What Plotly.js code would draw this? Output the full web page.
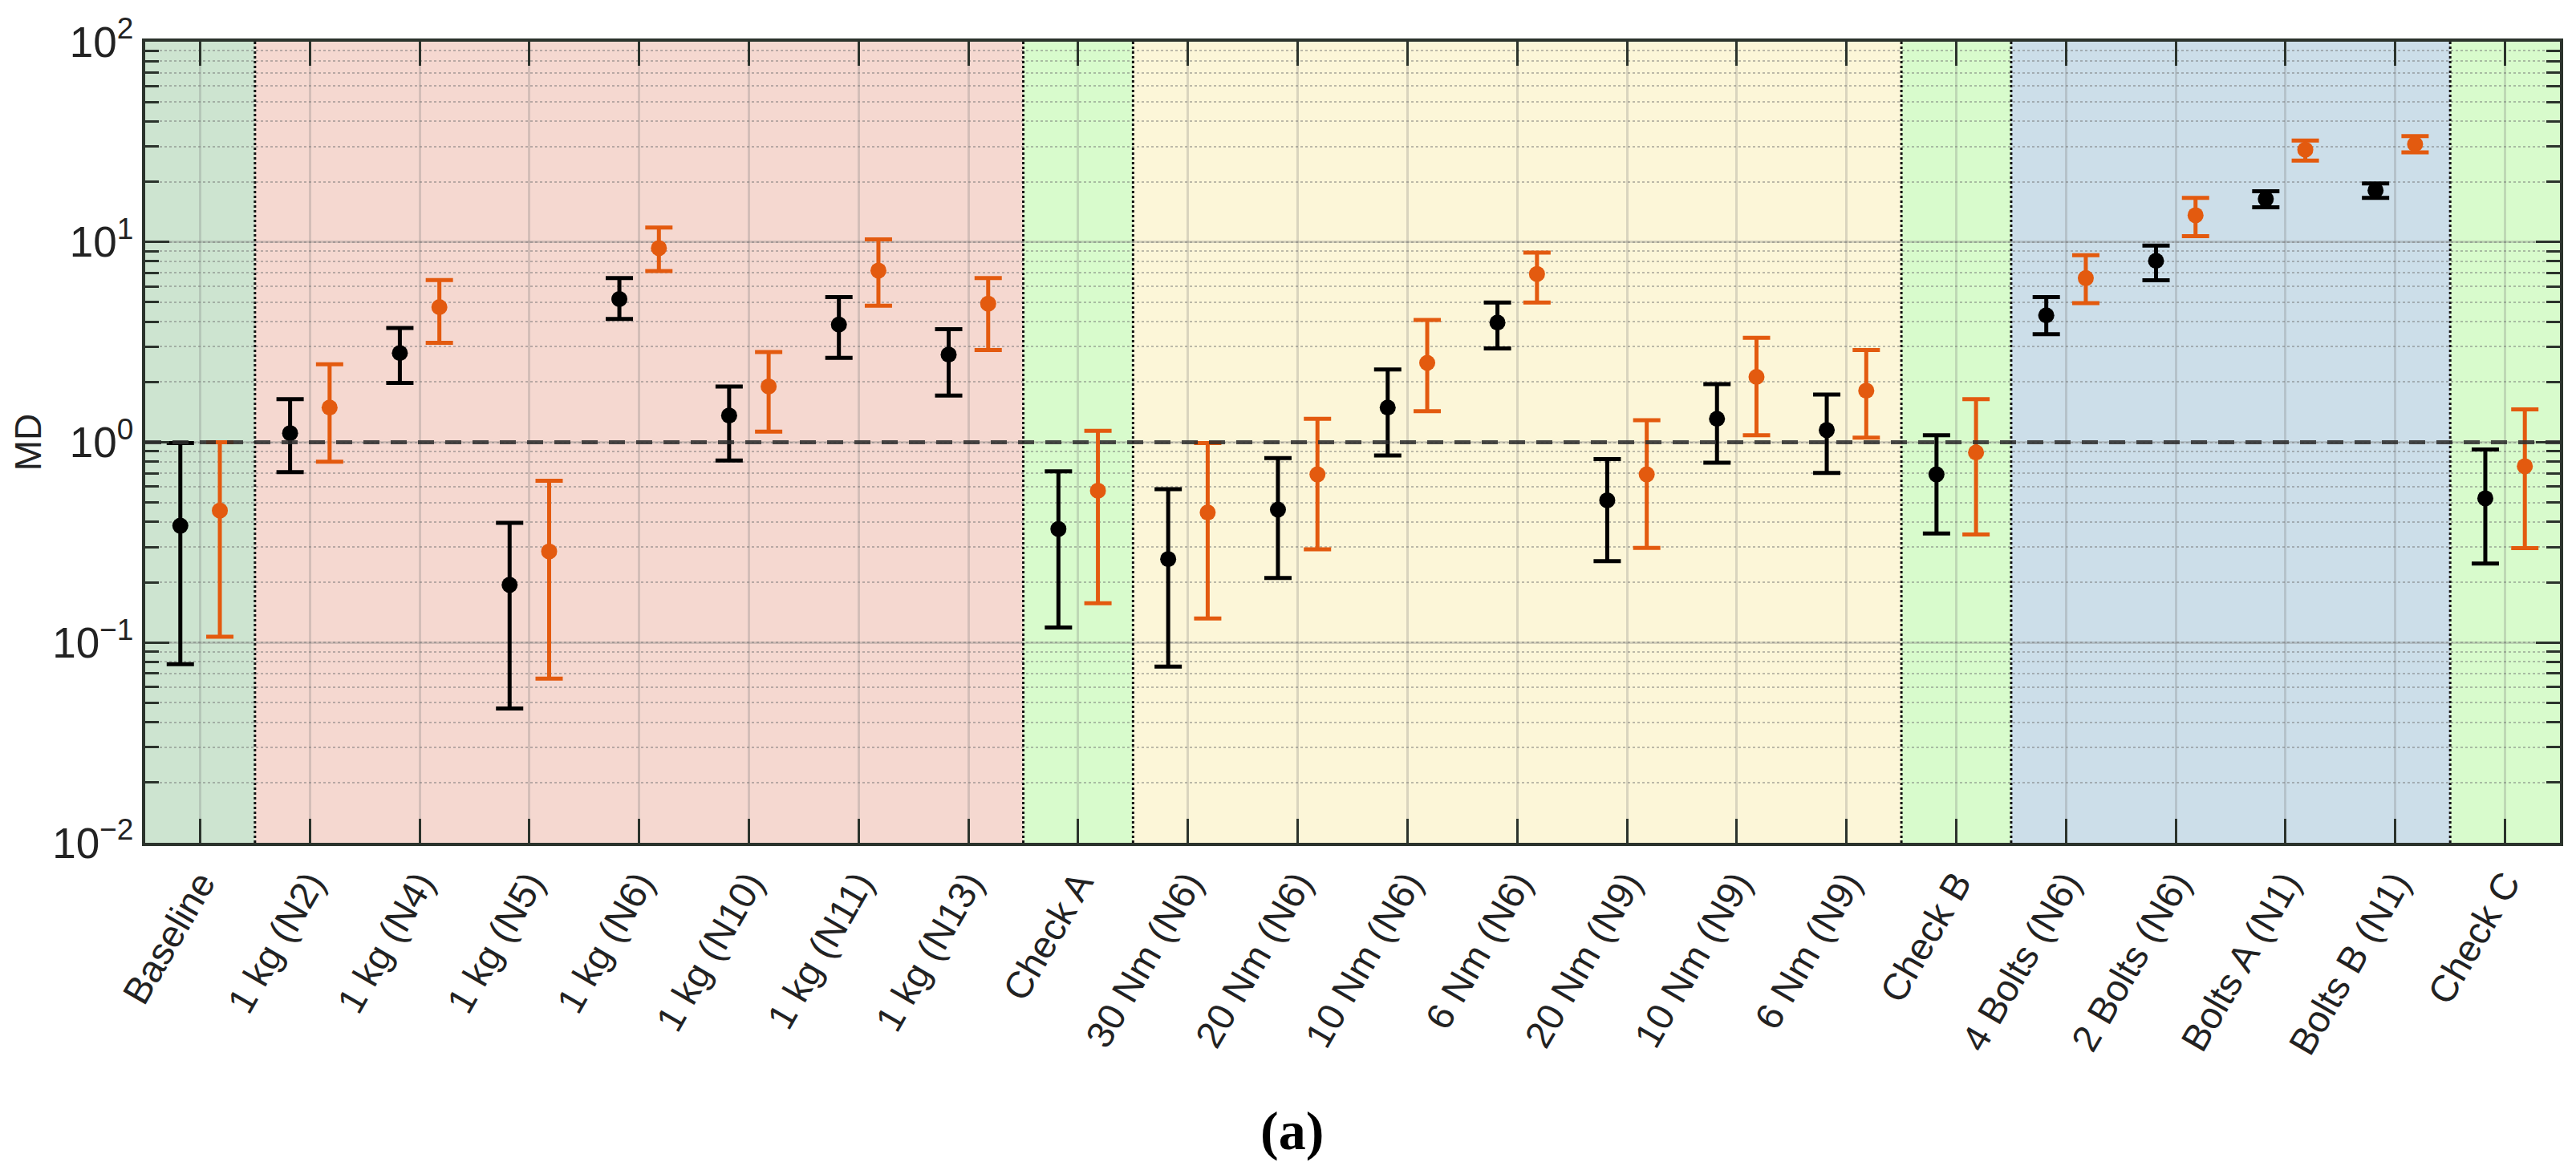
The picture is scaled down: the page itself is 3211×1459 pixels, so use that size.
<!DOCTYPE html>
<html>
<head>
<meta charset="utf-8">
<script src="https://cdn.plot.ly/plotly-3.0.1.min.js"></script>
<style>
  html, body { margin: 0; padding: 0; background: #fff; }
  #graph { width: 3211px; height: 1459px; }
</style>
</head>
<body>
<div id="graph"></div>
<script>
var categories = ['Baseline', '1 kg (N2)', '1 kg (N4)', '1 kg (N5)', '1 kg (N6)', '1 kg (N10)', '1 kg (N11)', '1 kg (N13)',
  'Check A', '30 Nm (N6)', '20 Nm (N6)', '10 Nm (N6)', '6 Nm (N6)', '20 Nm (N9)', '10 Nm (N9)', '6 Nm (N9)',
  'Check B', '4 Bolts (N6)', '2 Bolts (N6)', 'Bolts A (N1)', 'Bolts B (N1)', 'Check C'];

// black series: value, upper and lower end of the bar
var blackMD   = [0.383, 1.11, 2.79, 0.194, 5.19, 1.36, 3.87, 2.74, 0.369, 0.261, 0.461, 1.49, 3.96, 0.513, 1.31, 1.15, 0.691, 4.30, 8.05, 16.4, 18.1, 0.525];
var blackHigh = [0.99, 1.64, 3.72, 0.396, 6.6, 1.90, 5.31, 3.67, 0.716, 0.583, 0.834, 2.31, 4.98, 0.824, 1.95, 1.73, 1.085, 5.31, 9.60, 17.9, 19.6, 0.921];
var blackLow  = [0.078, 0.71, 1.98, 0.0468, 4.13, 0.81, 2.64, 1.71, 0.119, 0.0759, 0.210, 0.859, 2.94, 0.255, 0.791, 0.703, 0.350, 3.46, 6.44, 14.9, 16.6, 0.248];

// orange series
var orangeMD   = [0.456, 1.49, 4.73, 0.285, 9.32, 1.90, 7.20, 4.92, 0.573, 0.446, 0.691, 2.49, 6.92, 0.691, 2.12, 1.81, 0.889, 6.60, 13.6, 28.9, 30.8, 0.759];
var orangeHigh = [1.0, 2.45, 6.46, 0.642, 11.8, 2.82, 10.3, 6.6, 1.14, 0.99, 1.31, 4.08, 8.84, 1.29, 3.32, 2.89, 1.64, 8.59, 16.6, 32.1, 33.8, 1.46];
var orangeLow  = [0.107, 0.80, 3.14, 0.066, 7.16, 1.13, 4.81, 2.89, 0.157, 0.132, 0.292, 1.43, 4.98, 0.297, 1.085, 1.054, 0.346, 4.95, 10.7, 25.5, 28.0, 0.296];

// groups of categories (first and last index)
var groupFirst = [0, 1, 8, 9, 16, 17, 21];
var groupLast  = [0, 7, 8, 15, 16, 20, 21];
var groupColors = ['#cde4d0', '#f5d8d0', '#d8fbcc', '#fcf6d8', '#d8fbcc', '#ccdee9', '#d8fbcc'];

var yTickVals = [0.01, 0.1, 1, 10, 100];
var yTickText = ['10<sup>\u22122</sup>', '10<sup>\u22121</sup>', '10<sup>0</sup>', '10<sup>1</sup>', '10<sup>2</sup>'];

var FONT = 'Liberation Sans, Arial, Helvetica, sans-serif';
var AXIS = '#2b332c';

function seriesTrace(md, high, low, shift, color) {
  return {
    x: categories.map(function (c, i) { return i + shift; }),
    y: md,
    type: 'scatter',
    mode: 'markers',
    marker: {color: color, size: 20},
    error_y: {
      type: 'data',
      symmetric: false,
      array: high.map(function (h, i) { return h - md[i]; }),
      arrayminus: low.map(function (l, i) { return md[i] - l; }),
      color: color,
      thickness: 5,
      width: 17
    },
    hoverinfo: 'skip',
    showlegend: false
  };
}

var data = [
  seriesTrace(blackMD, blackHigh, blackLow, -0.18, '#000000'),
  seriesTrace(orangeMD, orangeHigh, orangeLow, 0.18, '#e35a0f')
];

var shapes = [];
groupFirst.forEach(function (f, g) {
  shapes.push({
    type: 'rect', layer: 'below', xref: 'x', yref: 'paper',
    x0: f - 0.5, x1: groupLast[g] + 0.5, y0: 0, y1: 1,
    fillcolor: groupColors[g], line: {width: 0}
  });
  if (g < groupFirst.length - 1) {
    shapes.push({
      type: 'line', layer: 'above', xref: 'x', yref: 'paper',
      x0: groupLast[g] + 0.5, x1: groupLast[g] + 0.5, y0: 0, y1: 1,
      line: {color: '#111', width: 3, dash: 'dot'}
    });
  }
});
// reference line at MD = 1
shapes.push({
  type: 'line', layer: 'above', xref: 'x', yref: 'y',
  x0: -0.5, x1: categories.length - 0.5, y0: 1, y1: 1,
  line: {color: 'rgba(45,45,45,0.85)', width: 5, dash: '20px,14px'}
});

var layout = {
  width: 3211,
  height: 1459,
  margin: {l: 181, r: 20, t: 52, b: 408},
  paper_bgcolor: '#ffffff',
  plot_bgcolor: '#ffffff',
  font: {family: FONT, color: '#222'},
  showlegend: false,
  hovermode: false,
  xaxis: {
    range: [-0.5, categories.length - 0.5],
    tickmode: 'array',
    tickvals: categories.map(function (c, i) { return i; }),
    ticktext: categories,
    tickangle: -60,
    tickfont: {family: FONT, size: 47, color: '#222'},
    ticks: 'inside',
    ticklen: 30,
    tickwidth: 3,
    tickcolor: AXIS,
    showline: true,
    linecolor: AXIS,
    linewidth: 4,
    mirror: 'ticks',
    showgrid: true,
    gridcolor: 'rgba(110,110,110,0.25)',
    gridwidth: 3,
    zeroline: false
  },
  yaxis: {
    type: 'log',
    range: [-2, 2],
    tickmode: 'array',
    tickvals: yTickVals,
    ticktext: yTickText,
    tickfont: {family: FONT, size: 53, color: '#222'},
    ticks: 'inside',
    ticklen: 30,
    tickwidth: 3,
    tickcolor: AXIS,
    showline: true,
    linecolor: AXIS,
    linewidth: 4,
    mirror: 'ticks',
    showgrid: true,
    gridcolor: 'rgba(120,120,120,0.3)',
    gridwidth: 3,
    zeroline: false,
    minor: {
      dtick: 'D1',
      ticks: 'inside',
      ticklen: 17,
      tickwidth: 3,
      tickcolor: AXIS,
      showgrid: true,
      gridcolor: 'rgba(110,110,110,0.45)',
      gridwidth: 2,
      griddash: 'dot'
    },
    title: {text: 'MD', font: {family: FONT, size: 46, color: '#222'}, standoff: 0}
  },
  shapes: shapes,
  annotations: [{
    xref: 'paper', yref: 'paper',
    x: 0.475, y: -0.359,
    xanchor: 'center', yanchor: 'middle',
    text: '<b>(a)</b>',
    showarrow: false,
    font: {family: 'Liberation Serif, Times New Roman, serif', size: 68, color: '#000'}
  }]
};

Plotly.newPlot('graph', data, layout, {displayModeBar: false, staticPlot: true});
</script>
</body>
</html>
